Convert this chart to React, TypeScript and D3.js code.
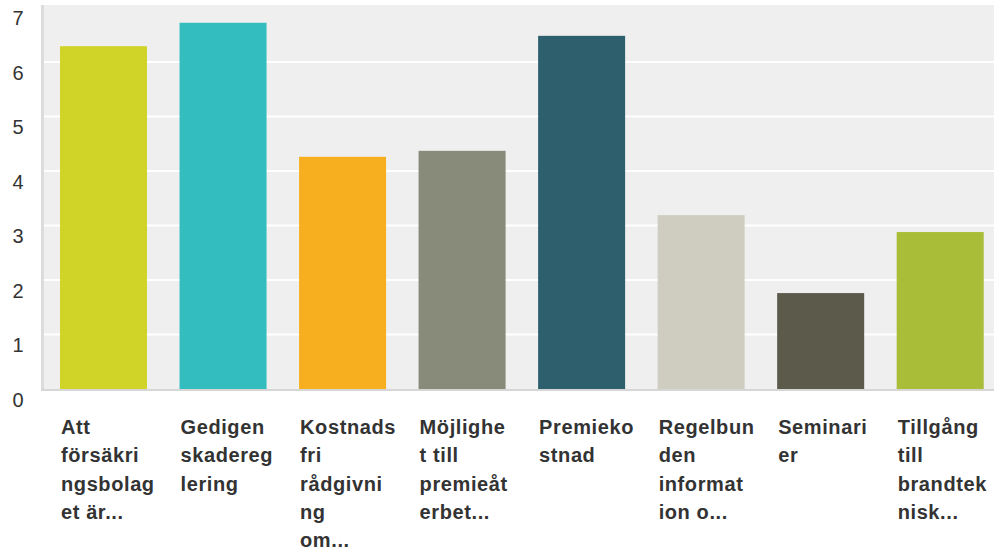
import React from "react";
import * as d3 from "d3";

const categories = [
  "Att försäkringsbolaget är...",
  "Gedigen skadereglering",
  "Kostnadsfri rådgivning om...",
  "Möjlighet till premieåterbet...",
  "Premiekostnad",
  "Regelbunden information o...",
  "Seminarier",
  "Tillgång till brandteknisk...",
];
const labelLines = [
  ["Att", "försäkri", "ngsbolag", "et är..."],
  ["Gedigen", "skadereg", "lering"],
  ["Kostnads", "fri", "rådgivni", "ng", "om..."],
  ["Möjlighe", "t till", "premieåt", "erbet..."],
  ["Premieko", "stnad"],
  ["Regelbun", "den", "informat", "ion o..."],
  ["Seminari", "er"],
  ["Tillgång", "till", "brandtek", "nisk..."],
];
const values = [6.29, 6.72, 4.26, 4.37, 6.48, 3.19, 1.76, 2.88];
const colors = ["#d0d428", "#33bdbf", "#f7af1f", "#888a7a", "#2e5f6d", "#cfcdc0", "#5b5a4b", "#a9bd38"];
const yTicks = [0, 1, 2, 3, 4, 5, 6, 7];

export default function App() {
  const W = 994;
  const H = 548;
  const plotLeft = 44;
  const plotRight = 994;
  const plotTop = 5;
  const x = d3.scaleBand<string>().domain(categories).range([60, 983.7]).paddingInner(0.272).paddingOuter(0);
  const y = d3.scaleLinear().domain([0, 7]).range([389, 7.5]);
  const font = "'Liberation Sans', Arial, Helvetica, sans-serif";
  return (
    <svg width={W} height={H} style={{ position: "absolute", left: 0, top: 0 }} fontFamily={font}>
      <rect x={plotLeft} y={plotTop} width={plotRight - plotLeft} height={y(0) - plotTop} fill="#efefef" />
      <rect x={41} y={plotTop} width={3} height={y(0) - plotTop + 1} fill="#dcdcdc" />
      {yTicks.filter((t) => t > 0 && t < 7).map((t) => (
        <line key={t} x1={plotLeft} x2={plotRight} y1={y(t)} y2={y(t)} stroke="#ffffff" strokeWidth={2} />
      ))}
      {categories.map((c, i) => (
        <rect key={c} x={x(c)} y={y(values[i])} width={x.bandwidth()} height={y(0) - y(values[i])} fill={colors[i]} />
      ))}
      <line x1={41} x2={plotRight} y1={y(0) + 1} y2={y(0) + 1} stroke="#d6d6d6" strokeWidth={2} />
      {yTicks.map((t) => (
        <text key={t} x={12.5} y={y(t) + 17.5} fontSize={20} fill="#333">{t}</text>
      ))}
      {categories.map((c, i) => (
        <text key={c} x={(x(c) as number) + 1} y={434} fontSize={20} fontWeight="bold" fill="#333" letterSpacing={0.6}>
          {labelLines[i].map((ln, j) => (
            <tspan key={j} x={(x(c) as number) + 1} y={434 + j * 28.3}>{ln}</tspan>
          ))}
        </text>
      ))}
    </svg>
  );
}
